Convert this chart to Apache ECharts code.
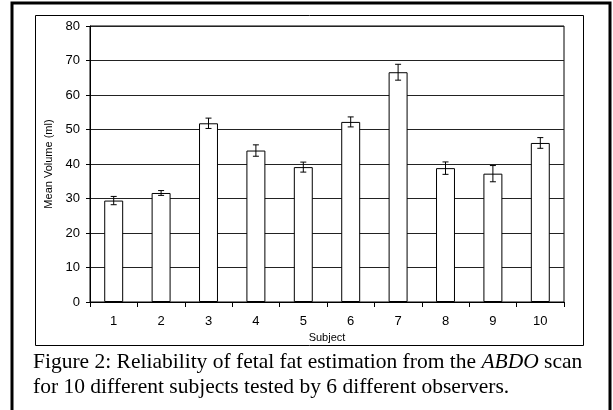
<!DOCTYPE html>
<html>
<head>
<meta charset="utf-8">
<script src="https://cdn.jsdelivr.net/npm/echarts@6/dist/echarts.min.js"></script>
<style>
html,body{margin:0;padding:0;background:#fff;}
#c{width:613px;height:410px;}
</style>
</head>
<body>
<div id="c"></div>
<script>
const subjects = ['1','2','3','4','5','6','7','8','9','10'];
const meanVolume = [29.4, 31.6, 51.8, 43.9, 39.1, 52.2, 66.6, 38.8, 37.2, 46.1];
const errorHalf = [1.2, 0.7, 1.5, 1.65, 1.45, 1.45, 2.3, 1.8, 2.35, 1.55];
const yTicks = {min: 0, max: 80, interval: 10};
const captionLines = [
  ['Figure 2: Reliability of fetal fat estimation from the ', 'ABDO', ' scan'],
  ['for 10 different subjects tested by 6 different observers.']
];

const chart = echarts.init(document.getElementById('c'), null, {renderer: 'canvas'});
const errData = subjects.map((s, i) => [i, meanVolume[i] - errorHalf[i], meanVolume[i] + errorHalf[i]]);

const option = {
  animation: false,
  backgroundColor: '#fff',
  grid: {left: 90, right: 49, top: 26, bottom: 108, show: true, borderColor: '#000', borderWidth: 1, backgroundColor: 'transparent'},
  xAxis: {
    type: 'category',
    data: subjects,
    name: 'Subject',
    nameLocation: 'middle',
    nameGap: 25,
    nameTextStyle: {fontFamily: 'Liberation Sans, Arial', fontSize: 11, color: '#000'},
    axisLine: {lineStyle: {color: '#000', width: 1}},
    axisTick: {show: true, alignWithLabel: false, length: 5, lineStyle: {color: '#000'}},
    axisLabel: {fontFamily: 'Liberation Sans, Arial', fontSize: 13, color: '#000', margin: 13},
    splitLine: {show: false}
  },
  yAxis: {
    type: 'value',
    min: yTicks.min, max: yTicks.max, interval: yTicks.interval,
    name: 'Mean Volume (ml)',
    nameLocation: 'middle',
    nameGap: 36,
    nameRotate: 90,
    nameTextStyle: {fontFamily: 'Liberation Sans, Arial', fontSize: 11, color: '#000'},
    axisLine: {show: true, lineStyle: {color: '#000', width: 1}},
    axisTick: {show: true, inside: false, length: 4, lineStyle: {color: '#000'}},
    axisLabel: {fontFamily: 'Liberation Sans, Arial', fontSize: 13, color: '#000', margin: 10},
    splitLine: {show: true, lineStyle: {color: '#222', width: 1}}
  },
  series: [
    {
      type: 'bar',
      data: meanVolume,
      barWidth: '40%',
      itemStyle: {color: '#fff', borderColor: '#000', borderWidth: 1},
      z: 2
    },
    {
      type: 'custom',
      data: errData,
      z: 3,
      renderItem: function (params, api) {
        const x = api.value(0);
        const lo = api.coord([x, api.value(1)]);
        const hi = api.coord([x, api.value(2)]);
        const hw = 3;
        const st = {stroke: '#000', lineWidth: 1};
        return {
          type: 'group',
          children: [
            {type: 'line', shape: {x1: lo[0], y1: lo[1], x2: hi[0], y2: hi[1]}, style: st},
            {type: 'line', shape: {x1: lo[0] - hw, y1: lo[1], x2: lo[0] + hw, y2: lo[1]}, style: st},
            {type: 'line', shape: {x1: hi[0] - hw, y1: hi[1], x2: hi[0] + hw, y2: hi[1]}, style: st}
          ]
        };
      }
    }
  ],
  graphic: [
    {type: 'rect', shape: {x: 35.5, y: 15.5, width: 548, height: 330}, style: {fill: 'none', stroke: '#000', lineWidth: 1}, z: 0},
    {type: 'polyline', shape: {points: [[12, 410], [12, 3], [610, 3], [610, 410]]}, style: {fill: 'none', stroke: '#000', lineWidth: 3}},
    {
      type: 'text', left: 33, top: 351,
      style: {
        text: '{n|' + captionLines[0][0] + '}{i|' + captionLines[0][1] + '}{n|' + captionLines[0][2] + '}\n{n|' + captionLines[1][0] + '}',
        rich: {
          n: {fontFamily: 'Liberation Serif, Times New Roman', fontSize: 21.5, fill: '#000', lineHeight: 25},
          i: {fontFamily: 'Liberation Serif, Times New Roman', fontSize: 21.5, fontStyle: 'italic', fill: '#000', lineHeight: 25}
        }
      }
    }
  ]
};
chart.setOption(option);
</script>
</body>
</html>
